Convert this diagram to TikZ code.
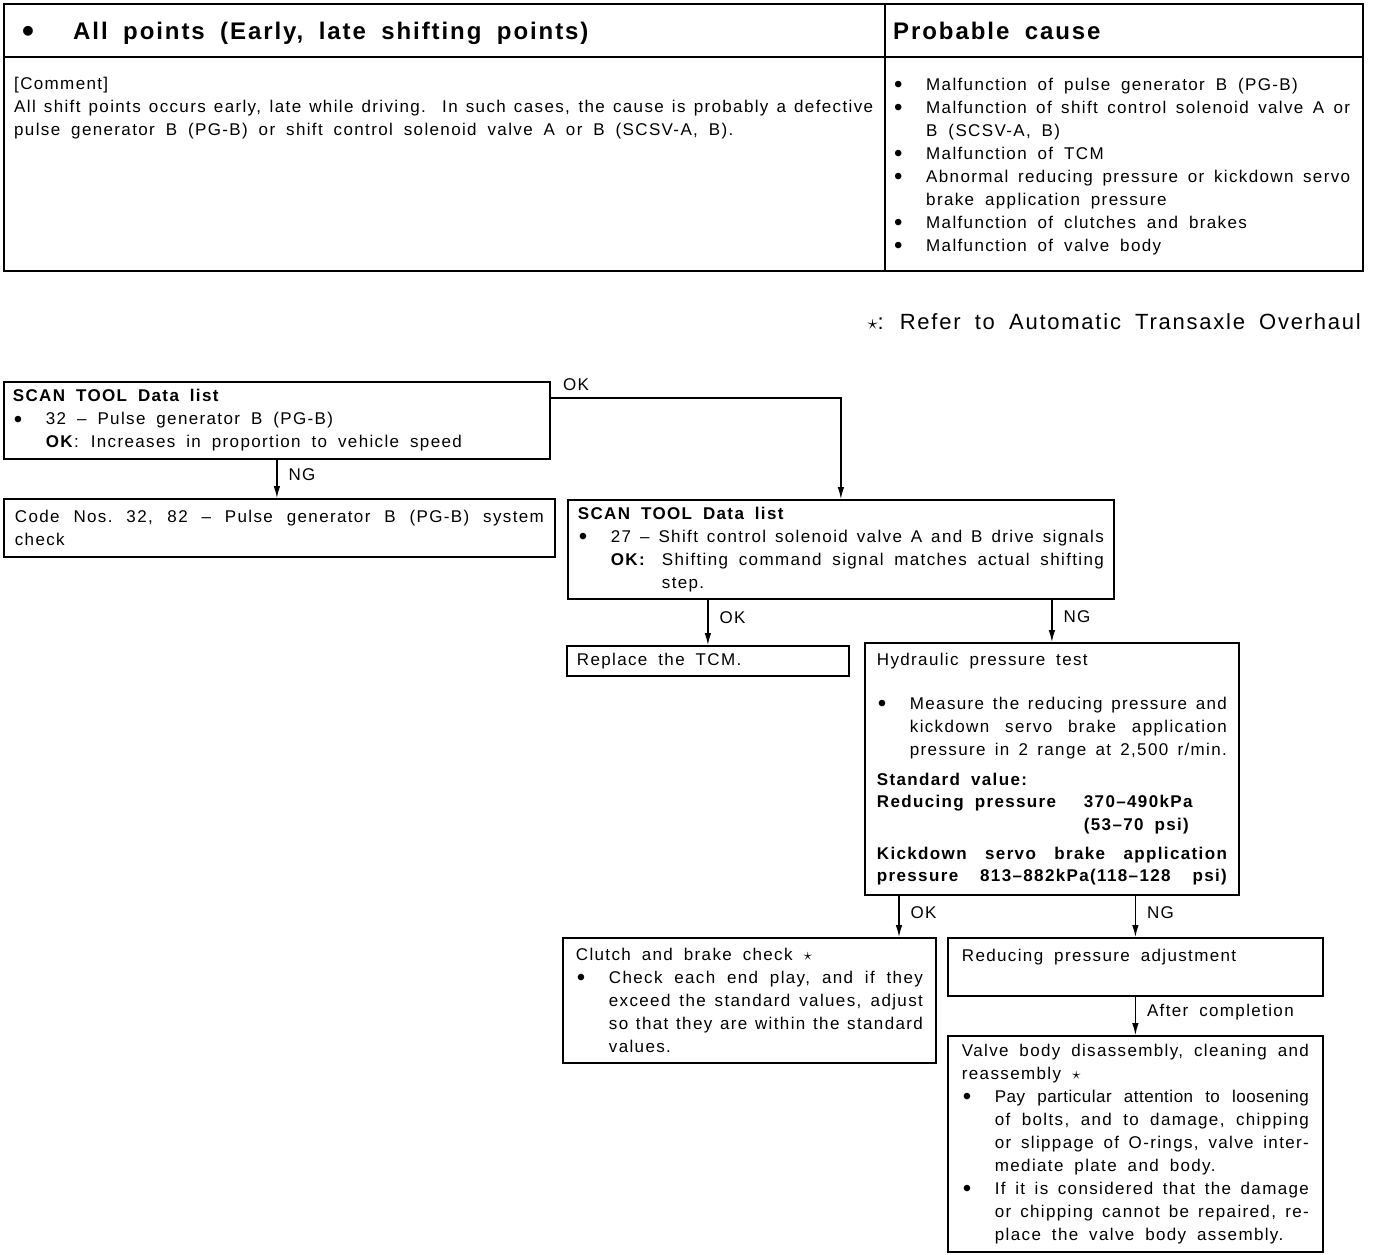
\documentclass[tikz,border=0pt]{standalone}
\usepackage{fontspec}
\setmainfont{Liberation Sans}[LetterSpace=8,WordSpace=1.8]
\usepackage{tikz}
\usetikzlibrary{positioning,arrows.meta,calc}
\newcommand{\flowfont}{\fontsize{17}{23}\selectfont}
\newcommand{\headfont}{\fontsize{24}{30}\selectfont\bfseries}
\newcommand{\blt}{\makebox[33pt][l]{\hspace{1pt}\raisebox{-2.5pt}{\fontsize{24}{23}\selectfont\textbullet}}}
\newcommand{\ind}{\hspace*{33pt}}
\newcommand{\okmark}{\makebox[51pt][l]{\textbf{OK:}}}
% justified lines: full, bulleted, indented
\newcommand{\fl}[1]{\makebox[\linewidth][s]{#1}}
\newcommand{\bfl}[1]{\blt\makebox[\dimexpr\linewidth-33pt\relax][s]{#1}}
\newcommand{\ifl}[1]{\ind\makebox[\dimexpr\linewidth-33pt\relax][s]{#1}}

\begin{document}
\begin{tikzpicture}[x=1pt,y=-1pt,
   box/.style={draw,line width=1.8pt,anchor=north west,align=justify,
     inner ysep=0pt,font=\flowfont},
   txt/.style={inner sep=0pt,anchor=base west,align=justify,font=\flowfont},
   flow/.style={-{Latex[length=12pt,width=6.5pt]},line width=1.2pt},
   lbl/.style={font=\flowfont,inner sep=0pt}]
  \useasboundingbox (0,0) rectangle (1376,1254);

  % trouble table
  \draw[line width=2.6pt] (4,4) rectangle (1363,271);
  \draw[line width=2.6pt] (4,57) -- (1363,57);
  \draw[line width=1.4pt] (885,4) -- (885,271);
  \node[txt,font=\headfont,align=left] (symptom) at (22,39)
    {\makebox[51pt][l]{\raisebox{-3pt}{\fontsize{34}{30}\selectfont\textbullet}}All points (Early, late shifting points)};
  \node[txt,font=\headfont,align=left] (causehead) at (893,39) {Probable cause};
  \node[txt,text width=859pt] (comment) at (14,89)
    {[Comment]\\
     \fl{All shift points occurs early, late while driving.\ \ In such cases, the cause is probably a defective}\\
     pulse generator B (PG-B) or shift control solenoid valve A or B (SCSV-A, B).};
  \node[txt,text width=457pt] (causes) at (893,90)
    {\blt Malfunction of pulse generator B (PG-B)\\
     \bfl{Malfunction of shift control solenoid valve A or}\\
     \ind B (SCSV-A, B)\\
     \blt Malfunction of TCM\\
     \bfl{Abnormal reducing pressure or kickdown servo}\\
     \ind brake application pressure\\
     \blt Malfunction of clutches and brakes\\
     \blt Malfunction of valve body};
  \node[txt,anchor=base east,align=left,font=\fontsize{22}{26}\selectfont] (refnote) at (1361,329)
    {$\star$:\hspace{16pt}Refer to Automatic Transaxle Overhaul};

  % flow chart
  \node[box,text width=528pt,inner xsep=9pt,minimum height=77pt] (scanA) at (3,381)
    {\textbf{SCAN TOOL Data list}\\
     \blt 32 -- Pulse generator B (PG-B)\\
     \ind\textbf{OK}:\hspace{12pt}Increases in proportion to vehicle speed};
  \node[box,text width=529pt,inner xsep=11pt,minimum height=58pt] (pgcheck) at (3,498)
    {\fl{Code Nos.\ 32, 82 -- Pulse generator B (PG-B) system}\\check};
  \node[box,text width=526pt,inner xsep=10pt,minimum height=99pt] (scanB) at (567,499)
    {\textbf{SCAN TOOL Data list}\\
     \bfl{27 -- Shift control solenoid valve A and B drive signals}\\
     \ind\okmark\makebox[\dimexpr\linewidth-84pt\relax][s]{Shifting command signal matches actual shifting}\\
     \ind\hspace*{51pt}step.};
  \node[box,text width=262pt,inner xsep=10pt,minimum height=30pt] (tcm) at (566,645)
    {Replace the TCM.};
  \node[box,text width=350pt,inner xsep=12pt,minimum height=252pt] (hydtest) at (864,642)
    {Hydraulic pressure test\\[21pt]
     \bfl{Measure the reducing pressure and}\\
     \ifl{kickdown servo brake application}\\
     \ifl{pressure in 2 range at 2,500 r/min.}\\[7pt]
     \textbf{Standard value:}\\[-1pt]
     \textbf{\makebox[207pt][l]{Reducing pressure}370--490kPa}\\
     \textbf{\hspace*{207pt}(53--70 psi)}\\[6pt]
     \textbf{\fl{Kickdown servo brake application}}\\[-1pt]
     \textbf{\fl{pressure 813--882kPa(118--128 psi)}}};
  \node[box,text width=347pt,inner xsep=13pt,minimum height=125pt] (clutch) at (562,937)
    {Clutch and brake check $\star$\\
     \bfl{Check each end play, and if they}\\
     \ifl{exceed the standard values, adjust}\\
     \ifl{so that they are within the standard}\\
     \ind values.};
  \node[box,text width=347pt,inner xsep=14pt,minimum height=58pt] (reducing) at (947,937)
    {Reducing pressure adjustment\\~};
  \node[box,text width=347pt,inner xsep=14pt,minimum height=216pt] (valvebody) at (947,1035)
    {\fl{Valve body disassembly, cleaning and}\\
     reassembly $\star$\\
     \bfl{\addfontfeatures{LetterSpace=3}Pay particular attention to loosening}\\
     \ifl{of bolts, and to damage, chipping}\\
     \ifl{or slippage of O-rings, valve inter-}\\
     \ind mediate plate and body.\\
     \bfl{If it is considered that the damage}\\
     \ifl{or chipping cannot be repaired, re-}\\
     \ind place the valve body assembly.};

  % connectors
  \draw[flow] ($(scanA.north east)+(0,17)$) coordinate (okA) -| (scanB.north);
  \node[lbl,anchor=base west] (okAtxt) at ($(okA)+(12,-8)$) {OK};
  \draw[flow] (scanA.south) -- (scanA.south |- pgcheck.north)
    node[lbl,pos=0.4,right=11pt] {NG};
  \draw[flow] (tcm.north |- scanB.south) -- (tcm.north)
    node[lbl,pos=0.4,right=11pt] {OK};
  \draw[flow] (hydtest.north |- scanB.south) -- (hydtest.north)
    node[lbl,pos=0.4,right=11pt] {NG};
  \coordinate (okC) at ($(hydtest.south west)+(35,0)$);
  \draw[flow] (okC) -- (okC |- clutch.north)
    node[lbl,pos=0.4,right=11pt] {OK};
  \draw[flow] (reducing.north |- hydtest.south) -- (reducing.north)
    node[lbl,pos=0.4,right=11pt] {NG};
  \draw[flow] (reducing) -- (valvebody)
    node[lbl,pos=0.4,right=11pt] {After completion};
\end{tikzpicture}
\end{document}
